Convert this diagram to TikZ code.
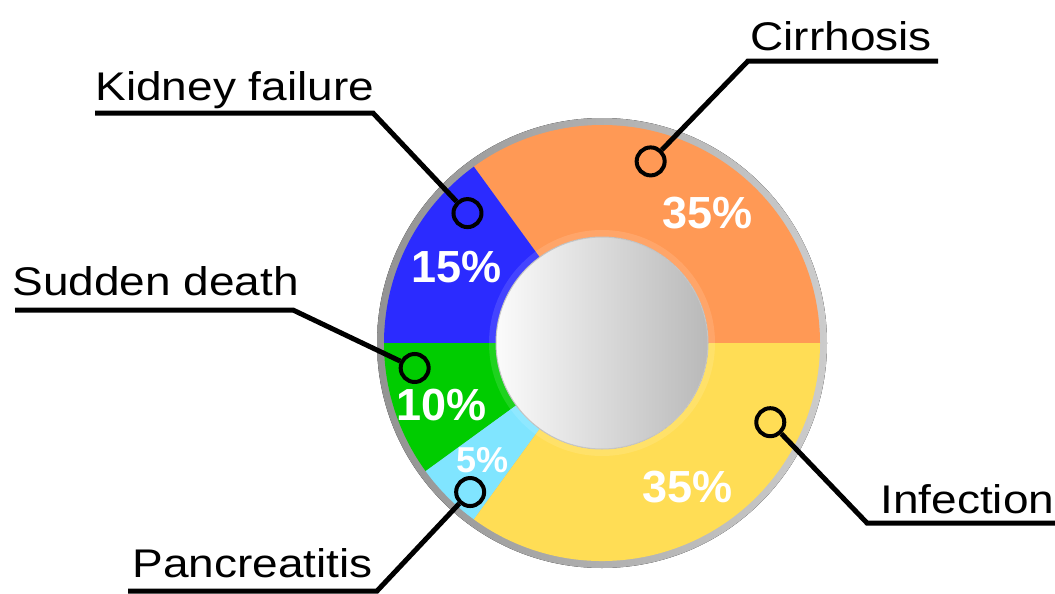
\documentclass[tikz,border=0pt]{standalone}
\usepackage{fontspec}
\setmainfont{Liberation Sans}
\newfontfamily\lblfont{Liberation Sans}[FakeStretch=1.15]
\usepackage{xcolor}
\usepackage{tikz}
\usetikzlibrary{positioning}

\definecolor{cirrh}{HTML}{FF9955}
\definecolor{kidney}{HTML}{2B2BFF}
\definecolor{sudden}{HTML}{00CC00}
\definecolor{pancr}{HTML}{80E5FF}
\definecolor{infect}{HTML}{FFDD55}

\tikzset{
  lbl/.style={anchor=base west, inner sep=0pt, font=\lblfont\fontsize{20pt}{21pt}\selectfont},
  pct/.style={text=white, inner sep=0pt, font=\bfseries\fontsize{22.5pt}{23pt}\selectfont},
  lead/.style={line width=2.5pt},
  dot/.style={circle, draw, line width=2pt, minimum size=14pt, inner sep=0pt},
}

\begin{document}
\begin{tikzpicture}[x=0.5pt, y=-0.5pt]
    \useasboundingbox (0,0) rectangle (1055,594);
    \coordinate (O) at (602,343);
    \begin{scope}[shift={(O)}, yscale=-1]
    	% rim and slices
    	\fill[left color=gray!85, right color=gray!40] (0,0) circle (225);
    	\foreach \a/\b/\c in {0/126/cirrh, 126/180/kidney, 180/216/sudden, 216/234/pancr, 234/360/infect}
    		\fill[\c] (0,0) -- (\a:218) arc[start angle=\a, end angle=\b, radius=218] -- cycle;
    	\fill[white, opacity=.12] (0,0) circle (113);
    	\fill[left color=white!97!gray, right color=gray!55, draw=gray!45, line width=.5pt] (0,0) circle (106);
    	% markers
    	\node[dot] (cirM) at (75:188) {};
    	\node[dot] (kidM) at (136:187) {};
    	\node[dot] (sudM) at (187.6:189) {};
    	\node[dot] (panM) at (228.5:199) {};
    	\node[dot] (infM) at (334.8:186) {};
    	% shares
    	\node[pct] (cirP) at (51:167) {35\%};
    	\node[pct] (kidP) at (152.3:164) {15\%};
    	\node[pct] (sudP) at (201:172) {10\%};
    	\node[pct, font=\bfseries\fontsize{18pt}{19pt}\selectfont] (panP) at (224.5:167) {5\%};
    	\node[pct] (infP) at (300.7:168) {35\%};
    \end{scope}

    \node[lbl] (cirT) at (750,50) {Cirrhosis};
    \node[lbl] (kidT) at (95,100) {Kidney failure};
    \node[lbl] (sudT) at (12,295) {Sudden death};
    \node[lbl] (panT) at (132,577) {Pancreatitis};
    \node[lbl] (infT) at (880,513) {Infection};

    \coordinate (cirA) at (938,61);
    \coordinate (cirB) at (748,61);
    \coordinate (kidA) at (95,113);
    \coordinate (kidB) at (373,113);
    \coordinate (sudA) at (15,310);
    \coordinate (sudB) at (293,310);
    \coordinate (panA) at (128,591);
    \coordinate (panB) at (377,591);
    \coordinate (infA) at (1055,523);
    \coordinate (infB) at (867,523);

    \draw[lead] (cirA) -- (cirB) -- (cirM);
    \draw[lead] (kidA) -- (kidB) -- (kidM);
    \draw[lead] (sudA) -- (sudB) -- (sudM);
    \draw[lead] (panA) -- (panB) -- (panM);
    \draw[lead] (infA) -- (infB) -- (infM);
\end{tikzpicture}
\end{document}
